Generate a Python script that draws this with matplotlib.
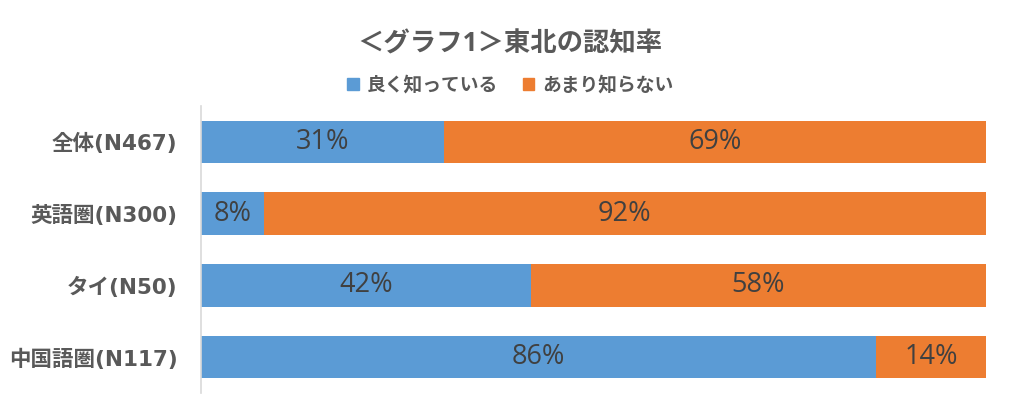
import matplotlib.pyplot as plt
from matplotlib.patches import Patch
import numpy as np

plt.rcParams['font.family'] = ['Open Sans', 'Noto Sans CJK JP', 'DejaVu Sans']

categories = ['全体(N467)', '英語圏(N300)', 'タイ(N50)', '中国語圏(N117)']
know_well = [31, 8, 42, 86]
not_much = [69, 92, 58, 14]
series_names = ['良く知っている', 'あまり知らない']
colors = ['#5B9BD5', '#ED7D31']

fig = plt.figure(figsize=(10.13, 3.96), dpi=100)
ax = fig.add_axes([201 / 1013, 3 / 396, 785 / 1013, 287 / 396])

y = np.arange(len(categories))
b1 = ax.barh(y, know_well, height=0.59, color=colors[0])
b2 = ax.barh(y, not_much, left=know_well, height=0.59, color=colors[1])

for bars in (b1, b2):
    for r in bars:
        w = r.get_width()
        ax.text(r.get_x() + w / 2, r.get_y() + r.get_height() / 2, f'{w:.0f}%',
                ha='center', va='center', fontsize=19.5, color='#404040')

ax.set_xlim(0, 100)
ax.set_ylim(3.5, -0.5)
ax.set_yticks(y)
ax.set_yticklabels(categories, fontsize=15.5, fontweight='bold', color='#595959',
                   family=['DejaVu Sans', 'Noto Sans CJK JP'])
ax.set_xticks([])
ax.tick_params(axis='y', length=0, pad=17)
for s in ['top', 'right', 'bottom']:
    ax.spines[s].set_visible(False)
ax.spines['left'].set_color('#D9D9D9')
ax.spines['left'].set_linewidth(1.2)

fig.text(0.5035, 0.89, '＜グラフ1＞東北の認知率', ha='center', va='center',
         fontsize=19, fontweight='bold', color='#595959')

handles = [Patch(color=c) for c in colors]
fig.legend(handles, series_names, loc='center', bbox_to_anchor=(0.504, 0.783),
           ncol=2, frameon=False, handlelength=0.6, handleheight=0.6,
           columnspacing=1.3, handletextpad=0.45, labelcolor='#595959',
           prop={'weight': 'bold', 'size': 13.5})

fig.savefig('out.png', dpi=100)
